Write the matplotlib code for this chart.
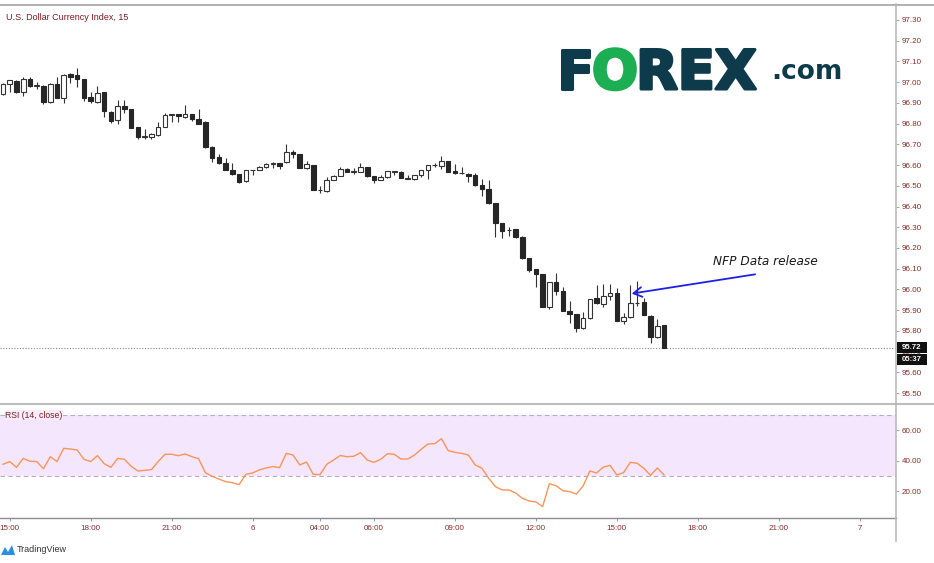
import matplotlib
matplotlib.use('Agg')
import matplotlib.pyplot as plt
import matplotlib.patheffects as pe
import numpy as np
from matplotlib.lines import Line2D
from matplotlib.patches import Rectangle, Polygon

# ---------------- data ----------------
opens = [96.941, 96.991, 97.007, 96.954, 97.015, 96.983, 96.982, 96.904, 96.990, 96.925,
         97.040, 97.033, 97.014, 96.927, 96.906, 96.951, 96.858, 96.818, 96.885, 96.869,
         96.782, 96.737, 96.737, 96.744, 96.785, 96.842, 96.846, 96.830, 96.846, 96.822,
         96.810, 96.689, 96.640, 96.608, 96.576, 96.555, 96.523, 96.576, 96.576, 96.592,
         96.604, 96.608, 96.613, 96.665, 96.652, 96.584, 96.600, 96.480, 96.475, 96.528,
         96.547, 96.581, 96.568, 96.568, 96.589, 96.547, 96.528, 96.541, 96.568, 96.567,
         96.535, 96.531, 96.551, 96.576, 96.600, 96.597, 96.620, 96.572, 96.560, 96.557,
         96.550, 96.504, 96.483, 96.416, 96.319, 96.287, 96.290, 96.254, 96.150, 96.097,
         96.074, 95.914, 96.034, 95.994, 95.898, 95.882, 95.812, 95.861, 95.957, 95.928,
         95.970, 95.981, 95.849, 95.865, 95.935, 95.938, 95.873, 95.769, 95.828]
highs = [96.998, 97.010, 97.010, 97.023, 97.023, 97.000, 96.988, 96.994, 97.023, 97.040,
         97.046, 97.067, 97.014, 96.950, 96.983, 96.951, 96.861, 96.914, 96.914, 96.869,
         96.782, 96.774, 96.753, 96.810, 96.850, 96.845, 96.848, 96.890, 96.848, 96.870,
         96.812, 96.690, 96.652, 96.632, 96.608, 96.556, 96.577, 96.578, 96.594, 96.612,
         96.613, 96.610, 96.700, 96.673, 96.654, 96.620, 96.602, 96.501, 96.544, 96.550,
         96.589, 96.586, 96.584, 96.608, 96.590, 96.549, 96.552, 96.572, 96.570, 96.569,
         96.552, 96.553, 96.578, 96.602, 96.608, 96.644, 96.622, 96.605, 96.589, 96.560,
         96.560, 96.531, 96.528, 96.418, 96.320, 96.303, 96.292, 96.256, 96.152, 96.099,
         96.076, 96.036, 96.078, 96.010, 95.946, 95.884, 95.893, 95.955, 96.021, 96.026,
         96.024, 96.005, 95.888, 96.021, 96.040, 95.957, 95.875, 95.856, 95.830]
lows = [96.938, 96.951, 96.946, 96.933, 96.975, 96.965, 96.895, 96.901, 96.925, 96.898,
        96.998, 96.978, 96.909, 96.898, 96.901, 96.830, 96.805, 96.798, 96.850, 96.777,
        96.726, 96.724, 96.724, 96.741, 96.785, 96.810, 96.806, 96.828, 96.813, 96.800,
        96.684, 96.617, 96.606, 96.574, 96.553, 96.512, 96.517, 96.552, 96.574, 96.587,
        96.587, 96.581, 96.611, 96.636, 96.584, 96.582, 96.480, 96.464, 96.472, 96.526,
        96.545, 96.566, 96.555, 96.566, 96.541, 96.512, 96.526, 96.539, 96.552, 96.537,
        96.533, 96.529, 96.541, 96.531, 96.592, 96.580, 96.565, 96.558, 96.558, 96.520,
        96.500, 96.451, 96.414, 96.255, 96.246, 96.259, 96.246, 96.148, 96.086, 96.013,
        95.914, 95.904, 95.973, 95.896, 95.840, 95.796, 95.810, 95.859, 95.930, 95.917,
        95.949, 95.846, 95.833, 95.863, 95.920, 95.875, 95.743, 95.767, 95.716]
closes = [96.991, 97.009, 96.954, 97.015, 96.983, 96.983, 96.904, 96.990, 96.925, 97.035,
          97.027, 97.014, 96.925, 96.911, 96.948, 96.861, 96.813, 96.884, 96.869, 96.781,
          96.737, 96.737, 96.748, 96.785, 96.842, 96.842, 96.837, 96.846, 96.821, 96.800,
          96.686, 96.636, 96.608, 96.576, 96.555, 96.520, 96.575, 96.576, 96.592, 96.605,
          96.608, 96.597, 96.665, 96.652, 96.584, 96.604, 96.480, 96.480, 96.528, 96.547,
          96.580, 96.568, 96.568, 96.589, 96.547, 96.528, 96.541, 96.570, 96.568, 96.539,
          96.535, 96.552, 96.576, 96.600, 96.600, 96.620, 96.567, 96.560, 96.560, 96.547,
          96.502, 96.483, 96.416, 96.319, 96.283, 96.287, 96.254, 96.150, 96.094, 96.073,
          95.917, 96.034, 95.994, 95.898, 95.882, 95.812, 95.861, 95.952, 95.933, 95.970,
          95.981, 95.849, 95.869, 95.935, 95.935, 95.877, 95.769, 95.824, 95.720]
rsi = [37.7, 39.5, 35.7, 41.6, 39.7, 39.5, 34.8, 42.7, 39.5, 48.2,
       47.8, 47.1, 41.0, 39.5, 43.4, 38.1, 35.7, 41.6, 41.0, 36.4,
       33.3, 33.7, 34.2, 39.5, 44.3, 44.3, 43.4, 44.5, 42.7, 41.4,
       32.2, 29.8, 28.0, 26.3, 25.6, 24.3, 31.1, 32.0, 34.0, 35.3,
       36.2, 35.5, 44.9, 43.8, 37.3, 39.2, 31.1, 30.9, 37.7, 40.5,
       43.5, 42.7, 43.0, 45.4, 40.5, 39.0, 41.0, 44.7, 44.3, 41.2,
       41.2, 43.8, 47.6, 51.1, 51.3, 54.6, 46.7, 45.6, 44.9, 43.8,
       37.3, 35.1, 28.5, 23.0, 20.8, 20.8, 18.8, 15.3, 13.5, 12.9,
       9.8, 24.9, 23.6, 20.3, 19.7, 18.1, 23.4, 33.3, 32.0, 35.9,
       37.0, 30.7, 32.2, 39.0, 38.4, 35.1, 30.4, 35.3, 30.7]
time_tick_pos = [1, 13, 25, 37, 47, 55, 67, 79, 91, 103, 115, 127]
time_tick_labels = ['15:00', '18:00', '21:00', '6', '04:00', '06:00', '09:00',
                    '12:00', '15:00', '18:00', '21:00', '7']
price_ticks = [95.5, 95.6, 95.7, 95.8, 95.9, 96.0, 96.1, 96.2, 96.3, 96.4,
               96.5, 96.6, 96.7, 96.8, 96.9, 97.0, 97.1, 97.2, 97.3]
rsi_ticks = [20, 40, 60]
countdown = '05:37'

# ---------------- figure ----------------
W, H = 934, 563
fig = plt.figure(figsize=(W / 100, H / 100), dpi=100)
fig.patch.set_facecolor('white')


def fx(px):
    return px / W


def fy(py):
    return 1 - py / H


LBL = '#8a2a2a'
FONT = 'Liberation Sans'

ax = fig.add_axes([0, fy(403), fx(896), fy(5) - fy(403)])
rax = fig.add_axes([0, fy(518), fx(896), fy(404) - fy(518)])

XL = (-0.445, 132.39)
ax.set_xlim(*XL)
ax.set_ylim(95.4524, 97.372)
rax.set_xlim(*XL)
rax.set_ylim(2.31, 77.45)

for a in (ax, rax):
    for s in a.spines.values():
        s.set_visible(False)
    a.set_facecolor('white')

# candles
o = np.array(opens); h = np.array(highs); l = np.array(lows); c = np.array(closes)
x = np.arange(len(o))
up = c >= o
ax.vlines(x, l, h, color='#333333', lw=0.8, zorder=2)
bb = np.minimum(o, c)
bh = np.maximum(np.abs(c - o), 0.002)
ax.bar(x[up], bh[up], bottom=bb[up], width=0.68, facecolor='white',
       edgecolor='#333333', linewidth=0.8, zorder=3)
ax.bar(x[~up], bh[~up], bottom=bb[~up], width=0.68, facecolor='#262626',
       edgecolor='#262626', linewidth=0.8, zorder=3)

# last price dotted line
ax.axhline(c[-1], color='#8a8a8a', lw=0.8, ls=(0, (1, 1.5)), zorder=1)

# price axis
ax.yaxis.tick_right()
ax.set_yticks(price_ticks)
ax.set_yticklabels([f'{v:.2f}' for v in price_ticks])
ax.tick_params(axis='y', direction='out', length=2.2, width=0.6, color='#999999',
               labelsize=5.8, labelcolor=LBL, pad=2)
ax.set_xticks([])
for t in ax.get_yticklabels():
    t.set_fontfamily(FONT)

# last price boxes
ydisp = ax.transData.transform((0, c[-1]))[1]
ypix = H - ydisp
for i, (txt, yc) in enumerate([(f'{c[-1]:.2f}', ypix), (countdown, ypix + 11.5)]):
    fig.add_artist(Rectangle((fx(897), fy(yc + 5.5)), fx(30), 11 / H,
                             transform=fig.transFigure, facecolor='#111111',
                             edgecolor='none', zorder=5))
    fig.text(fx(912), fy(yc), txt, color='white', fontsize=5.6, fontweight='bold',
             ha='center', va='center', family=FONT, zorder=6)

# RSI pane
rax.axhspan(30, 70, color='#f4e6fc', zorder=0, lw=0)
rax.axhline(70, color='#b9a9c2', lw=0.8, ls=(0, (4, 3)), zorder=1)
rax.axhline(30, color='#b9a9c2', lw=0.8, ls=(0, (4, 3)), zorder=1)
rax.plot(x, rsi, color='#f7955a', lw=1.0, zorder=3)
rax.yaxis.tick_right()
rax.set_yticks(rsi_ticks)
rax.set_yticklabels([f'{v:.2f}' for v in rsi_ticks])
rax.tick_params(axis='y', direction='out', length=2.2, width=0.6, color='#999999',
                labelsize=5.8, labelcolor=LBL, pad=2)
rax.spines['bottom'].set_visible(True)
rax.spines['bottom'].set_color('#8c8c8c')
rax.spines['bottom'].set_linewidth(1.0)
rax.set_xticks(time_tick_pos)
rax.set_xticklabels(time_tick_labels)
rax.tick_params(axis='x', direction='out', length=2.2, width=0.6, color='#888888',
                labelsize=5.8, labelcolor=LBL, pad=3)
for t in rax.get_xticklabels() + rax.get_yticklabels():
    t.set_fontfamily(FONT)
rax.text(0.006, 70, 'RSI (14, close)', transform=rax.get_yaxis_transform(),
         fontsize=6.2, color='#7a2020', va='center', ha='left', family=FONT,
         bbox=dict(facecolor='#f6ecfb', edgecolor='none', pad=0.3), zorder=4)

# frame lines
fig.add_artist(Line2D([0, 1], [fy(4.5), fy(4.5)], color='#b0b0b0', lw=1.4,
                      transform=fig.transFigure))
fig.add_artist(Line2D([0, 1], [fy(403.5), fy(403.5)], color='#bdbdbd', lw=1.5,
                      transform=fig.transFigure))
fig.add_artist(Line2D([fx(896), fx(896)], [fy(4), fy(541)], color='#b5b5b5', lw=1.1,
                      transform=fig.transFigure))

# title
fig.text(fx(6), fy(17), 'U.S. Dollar Currency Index, 15', fontsize=6.5,
         color='#7a1c1c', va='center', ha='left', family=FONT)

# FOREX.com logo
TEAL = '#0e3b4c'
GREEN = '#1cae52'
r = fig.canvas.get_renderer()
xcur = 557
for txt, col in [('F', TEAL), ('O', GREEN), ('REX', TEAL)]:
    t = fig.text(fx(xcur), fy(89), txt, fontsize=39, fontweight='bold', color=col,
                 family='DejaVu Sans', ha='left', va='baseline',
                 path_effects=[pe.withStroke(linewidth=2.2, foreground=col)])
    ext = t.get_window_extent(renderer=r)
    xcur = ext.x1 - 2
fig.text(fx(771), fy(79), '.com', fontsize=19, fontweight='bold', color=TEAL,
         family='DejaVu Sans', ha='left', va='baseline')

# NFP annotation
ax.annotate('', xy=(92.8, 95.978), xytext=(111.9, 96.075),
            arrowprops=dict(arrowstyle='->,head_length=0.6,head_width=0.35',
                            color='#1f1fe6', lw=1.3), zorder=6)
ax.text(105.3, 96.137, 'NFP Data release', fontsize=8.7, style='italic',
        color='#1a1a1a', va='center', ha='left', family='DejaVu Sans')

# TradingView footer
icon = np.array([[1, 555], [5, 547], [8, 552], [12, 545], [15, 555]])
fig.add_artist(Polygon(np.column_stack([fx(icon[:, 0]), fy(icon[:, 1])]),
                       closed=True, facecolor='#2a8fe0', edgecolor='none',
                       transform=fig.transFigure))
fig.text(fx(17), fy(550), 'TradingView', fontsize=6.5, color='#333333',
         va='center', ha='left', family=FONT)

fig.savefig('out.png', dpi=100, facecolor='white')
